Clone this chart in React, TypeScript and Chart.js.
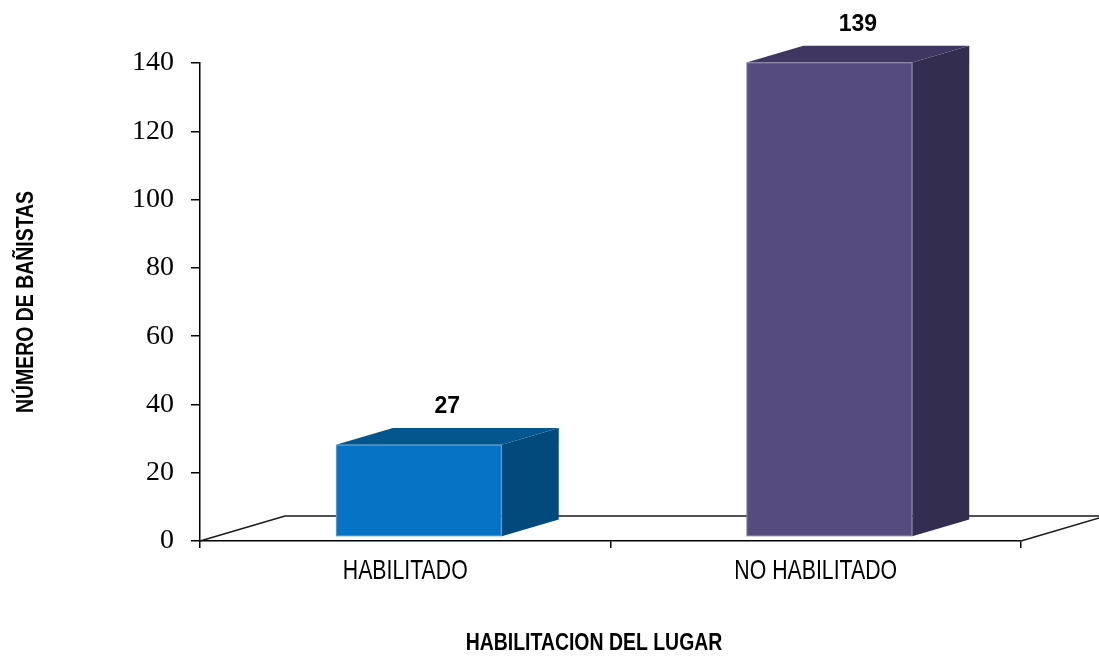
import React, { useEffect, useRef } from "react";
import { Chart, registerables } from "chart.js";

Chart.register(...registerables);

const categories = ["HABILITADO", "NO HABILITADO"];
const values = [27, 139];
const yTickValues = [0, 20, 40, 60, 80, 100, 120, 140];
const xTitle = "HABILITACION DEL LUGAR";
const yTitle = "NÚMERO DE BAÑISTAS";
const frontColors = ["#0673C4", "#554B7E"];
const topColors = ["#04568F", "#3F3762"];
const sideColors = ["#024A7C", "#332D50"];

const W = 1099;
const H = 656;
const FLOOR_DX = 85;
const FLOOR_DY = 25;
const BAR_SHIFT = 0.16;
const BAR_DEPTH = 0.67;
const TICK_NARROW = 0.76;
const TITLE_NARROW = 0.81;

export default function App() {
  const ref = useRef<HTMLCanvasElement | null>(null);

  useEffect(() => {
    if (!ref.current) return;
    const sans = '"Liberation Sans", Arial, sans-serif';
    const serif = '"Liberation Serif", "Times New Roman", serif';

    const narrowText = (ctx: any, text: string, x: number, y: number) => {
      ctx.save();
      ctx.translate(x, y);
      ctx.scale(TITLE_NARROW, 1);
      ctx.fillText(text, 0, 0);
      ctx.restore();
    };

    const threeD = {
      id: "threeD",
      beforeDraw(chart: any) {
        // condense the sans-serif axis labels (Arial Narrow look)
        const ctx = chart.ctx;
        const proto = Object.getPrototypeOf(ctx);
        const orig = proto.fillText;
        ctx.fillText = function (text: string, x: number, y: number, maxWidth?: number) {
          if (String(this.font).includes("Liberation Sans")) {
            this.save();
            this.translate(x, y);
            this.scale(TICK_NARROW, 1);
            orig.call(this, text, 0, 0);
            this.restore();
          } else if (maxWidth !== undefined) {
            orig.call(this, text, x, y, maxWidth);
          } else {
            orig.call(this, text, x, y);
          }
        };
      },
      beforeDatasetsDraw(chart: any) {
        const { ctx, chartArea, scales } = chart;
        delete ctx.fillText;
        const y0 = scales.y.getPixelForValue(0);
        const l = chartArea.left;
        const r = chartArea.right;
        ctx.save();
        ctx.strokeStyle = "#1a1a1a";
        ctx.lineWidth = 1.5;
        ctx.beginPath();
        ctx.moveTo(l, y0);
        ctx.lineTo(l + FLOOR_DX, y0 - FLOOR_DY);
        ctx.lineTo(r + FLOOR_DX, y0 - FLOOR_DY);
        ctx.moveTo(r, y0);
        ctx.lineTo(r + FLOOR_DX, y0 - FLOOR_DY);
        ctx.stroke();

        const meta = chart.getDatasetMeta(0);
        const sx = FLOOR_DX * BAR_SHIFT;
        const sy = FLOOR_DY * BAR_SHIFT;
        const dx = FLOOR_DX * BAR_DEPTH;
        const dy = FLOOR_DY * BAR_DEPTH;
        meta.data.forEach((bar: any, i: number) => {
          const p = bar.getProps(["x", "y", "base", "width"], true);
          const left = p.x - p.width / 2 + sx;
          const right = p.x + p.width / 2 + sx;
          const top = p.y - sy;
          const bottom = p.base - sy;
          ctx.fillStyle = sideColors[i];
          ctx.beginPath();
          ctx.moveTo(right, top);
          ctx.lineTo(right + dx, top - dy);
          ctx.lineTo(right + dx, bottom - dy);
          ctx.lineTo(right, bottom);
          ctx.closePath();
          ctx.fill();
          ctx.fillStyle = topColors[i];
          ctx.beginPath();
          ctx.moveTo(left, top);
          ctx.lineTo(left + dx, top - dy);
          ctx.lineTo(right + dx, top - dy);
          ctx.lineTo(right, top);
          ctx.closePath();
          ctx.fill();
          ctx.fillStyle = frontColors[i];
          ctx.fillRect(left, top, right - left, bottom - top);
          ctx.strokeStyle = "rgba(255,255,255,0.3)";
          ctx.lineWidth = 1;
          ctx.strokeRect(left + 0.5, top + 0.5, right - left - 1, bottom - top - 1);
        });
        ctx.restore();
      },
      afterDatasetsDraw(chart: any) {
        const { ctx } = chart;
        const meta = chart.getDatasetMeta(0);
        const sx = FLOOR_DX * BAR_SHIFT;
        const sy = FLOOR_DY * BAR_SHIFT;
        const dx = FLOOR_DX * BAR_DEPTH;
        const dy = FLOOR_DY * BAR_DEPTH;
        ctx.save();
        ctx.fillStyle = "#000";
        ctx.font = `bold 23px ${sans}`;
        ctx.textAlign = "center";
        ctx.textBaseline = "alphabetic";
        meta.data.forEach((bar: any, i: number) => {
          const p = bar.getProps(["x", "y"], true);
          const cx = p.x + sx + dx / 2;
          const backTop = p.y - sy - dy;
          ctx.fillText(String(values[i]), cx, backTop - 15);
        });
        ctx.restore();
      },
      afterDraw(chart: any) {
        const { ctx } = chart;
        delete ctx.fillText;
        ctx.save();
        ctx.fillStyle = "#000";
        ctx.font = `bold 24px ${sans}`;
        ctx.textAlign = "center";
        ctx.textBaseline = "alphabetic";
        narrowText(ctx, xTitle, 594, 650);
        ctx.translate(33, 302);
        ctx.rotate(-Math.PI / 2);
        narrowText(ctx, yTitle, 0, 0);
        ctx.restore();
      },
    };

    const chart = new Chart(ref.current, {
      type: "bar",
      data: {
        labels: categories,
        datasets: [
          {
            data: values,
            backgroundColor: "rgba(0,0,0,0)",
            borderWidth: 0,
            barPercentage: 0.404,
            categoryPercentage: 1,
          },
        ],
      },
      options: {
        responsive: false,
        animation: false,
        layout: { padding: { left: 0, top: 63, right: 78, bottom: 0 } },
        plugins: {
          legend: { display: false },
          tooltip: { enabled: false },
          title: { display: false },
        },
        scales: {
          x: {
            offset: true,
            grid: {
              display: true,
              offset: true,
              drawOnChartArea: false,
              drawTicks: true,
              tickLength: 7,
              color: "#000",
              lineWidth: 1.5,
            },
            border: { display: true, color: "#000", width: 1.5 },
            ticks: {
              color: "#000",
              padding: 6,
              font: { family: sans, size: 28 },
            },
            afterFit: (s: any) => {
              s.height = H - 541;
            },
          },
          y: {
            min: 0,
            max: 140,
            grid: {
              display: true,
              drawOnChartArea: false,
              drawTicks: true,
              tickLength: 9,
              color: "#000",
              lineWidth: 1.5,
            },
            border: { display: true, color: "#000", width: 1.5 },
            ticks: {
              color: "#000",
              padding: 17,
              font: { family: serif, size: 28 },
            },
            afterBuildTicks: (s: any) => {
              s.ticks = yTickValues.map((v) => ({ value: v }));
            },
            afterFit: (s: any) => {
              s.width = 200;
            },
          },
        },
      },
      plugins: [threeD],
    });
    return () => chart.destroy();
  }, []);

  return (
    <div style={{ position: "fixed", left: 0, top: 0, width: W, height: H, background: "#fff" }}>
      <canvas ref={ref} width={W} height={H} style={{ display: "block", width: W, height: H }} />
    </div>
  );
}
